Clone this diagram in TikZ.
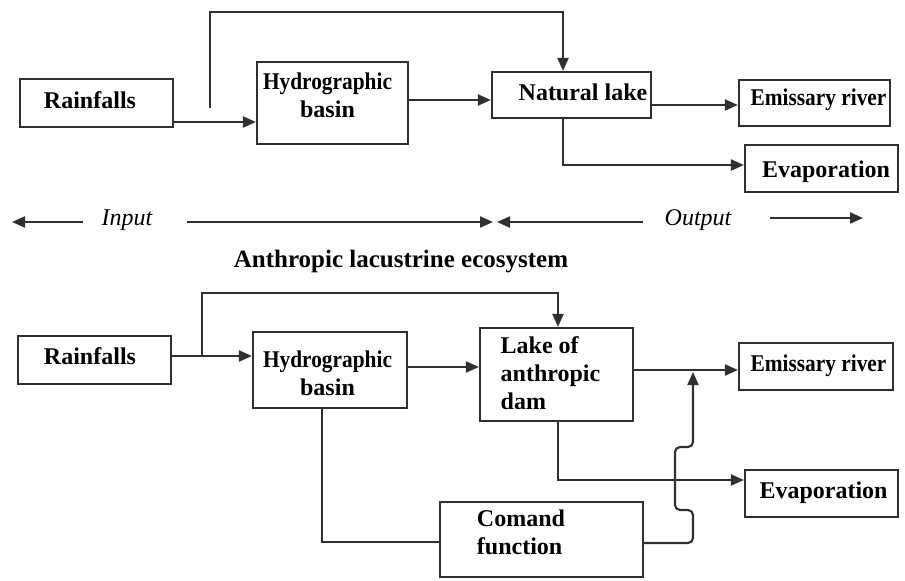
\documentclass[tikz,border=0pt]{standalone}
\usepackage{fontspec}
\usepackage{graphicx}
\setmainfont{Liberation Serif}
\usetikzlibrary{arrows.meta}
\definecolor{ln}{HTML}{303030}
\begin{document}
\begin{tikzpicture}[x=1pt,y=-1pt,
  box/.style={draw=ln, line width=2.2pt, inner sep=0pt},
  txt/.style={font=\fontsize{24}{28}\selectfont\bfseries, text=black, inner sep=0pt, align=center},
  ltxt/.style={txt, align=left},
  conn/.style={draw=ln, line width=2.1pt},
  arr/.style={conn, -{Triangle[length=13pt,width=11pt]}},
  ital/.style={font=\fontsize{24}{28}\selectfont\itshape, text=black, inner sep=0pt},
  ttlstyle/.style={font=\fontsize{25}{28}\selectfont\bfseries, text=black, inner sep=0pt}]
\useasboundingbox (0,0) rectangle (905,581);

% ---------- top: natural lake ----------
\node[box, minimum width=153pt, minimum height=48pt,
  label={[txt, xshift=-6.5pt, yshift=3pt]center:Rainfalls}] (r1) at (96.5,103) {};
\node[box, minimum width=151pt, minimum height=82pt,
  label={[txt, xshift=-5pt, yshift=8pt]center:{\scalebox{0.89}[1]{Hydrographic}\\basin}}] (h1) at (332.5,103) {};
\node[box, minimum width=159pt, minimum height=46pt,
  label={[txt, xshift=11.5pt, yshift=3pt]center:Natural lake}] (n1) at (571.5,95) {};
\node[box, minimum width=151pt, minimum height=46pt,
  label={[txt, xshift=4pt, yshift=3pt]center:{\scalebox{0.89}[1]{Emissary river}}}] (e1) at (814.5,103) {};
\node[box, minimum width=153pt, minimum height=47pt,
  label={[txt, xshift=4.5pt, yshift=-3.5pt]center:Evaporation}] (v1) at (821.5,168.5) {};

\coordinate (y122) at (0,122);
\coordinate (y100) at (0,100);
\coordinate (y105) at (0,105);
\coordinate (y165) at (0,165);
\coordinate (fb1) at (210,108);
\coordinate (k1) at (563,12);

\draw[arr] (r1.east |- y122) -- (h1.west |- y122);
\draw[arr] (fb1) |- (k1) -- (k1 |- n1.north);
\draw[arr] (h1.east |- y100) -- (n1.west |- y100);
\draw[arr] (n1.east |- y105) -- (e1.west |- y105);
\draw[arr] (n1.south -| k1) |- (v1.west |- y165);

% ---------- middle ----------
\coordinate (m1a) at (83,222);
\coordinate (m1b) at (12,222);
\coordinate (m2a) at (187,222);
\coordinate (m2b) at (493,222);
\coordinate (m3a) at (643,222);
\coordinate (m3b) at (497,222);
\coordinate (m4a) at (770,218);
\coordinate (m4b) at (863,218);
\draw[arr] (m1a) -- (m1b);
\node[ital] (inp) at (127,220) {Input};
\draw[arr] (m2a) -- (m2b);
\draw[arr] (m3a) -- (m3b);
\node[ital] (outp) at (698,220) {Output};
\draw[arr] (m4a) -- (m4b);
\node[ttlstyle] (ttl) at (401,262) {Anthropic lacustrine ecosystem};

% ---------- bottom: anthropic lake ----------
\node[box, minimum width=153pt, minimum height=48pt,
  label={[txt, xshift=-4.5pt, yshift=4pt]center:Rainfalls}] (r2) at (94.5,360) {};
\node[box, minimum width=154pt, minimum height=76pt,
  label={[txt, xshift=-2.5pt, yshift=-3pt]center:{\scalebox{0.89}[1]{Hydrographic}\\basin}}] (h2) at (330,370) {};
\node[box, minimum width=153pt, minimum height=93pt,
  label={[ltxt, xshift=-6pt, yshift=1pt]center:{Lake of\\anthropic\\dam}}] (l2) at (556.5,374.5) {};
\node[box, minimum width=154pt, minimum height=47pt,
  label={[txt, xshift=2.5pt, yshift=0.5pt]center:{\scalebox{0.89}[1]{Emissary river}}}] (e2) at (816,366.5) {};
\node[box, minimum width=153pt, minimum height=47pt,
  label={[txt, xshift=2pt, yshift=0.5pt]center:Evaporation}] (v2) at (821.5,493.5) {};
\node[box, minimum width=203pt, minimum height=75pt,
  label={[ltxt, xshift=-20.5pt, yshift=7pt]center:{Comand\\function}}] (c2) at (541.5,539.5) {};

\coordinate (y356) at (0,356);
\coordinate (y367) at (0,367);
\coordinate (y370) at (0,370);
\coordinate (y480) at (0,480);
\coordinate (y543) at (0,543);
\coordinate (br) at (202,356);
\coordinate (k2) at (558,293);
\coordinate (k3) at (322,542);
\coordinate (j) at (693,372);

\draw[arr] (r2.east |- y356) -- (h2.west |- y356);
\draw[arr] (br) |- (k2) -- (k2 |- l2.north);
\draw[arr] (h2.east |- y367) -- (l2.west |- y367);
\draw[arr] (l2.east |- y370) -- (e2.west |- y370);
\draw[arr] (l2.south -| k2) |- (v2.west |- y480);
\draw[conn] (h2.south -| k3) |- (c2.west |- k3);
\draw[arr, rounded corners=5pt] (c2.east |- y543) -| (693,510) -- (675,510) -- (675,447) -- (693,447) -- (j);
\end{tikzpicture}
\end{document}
